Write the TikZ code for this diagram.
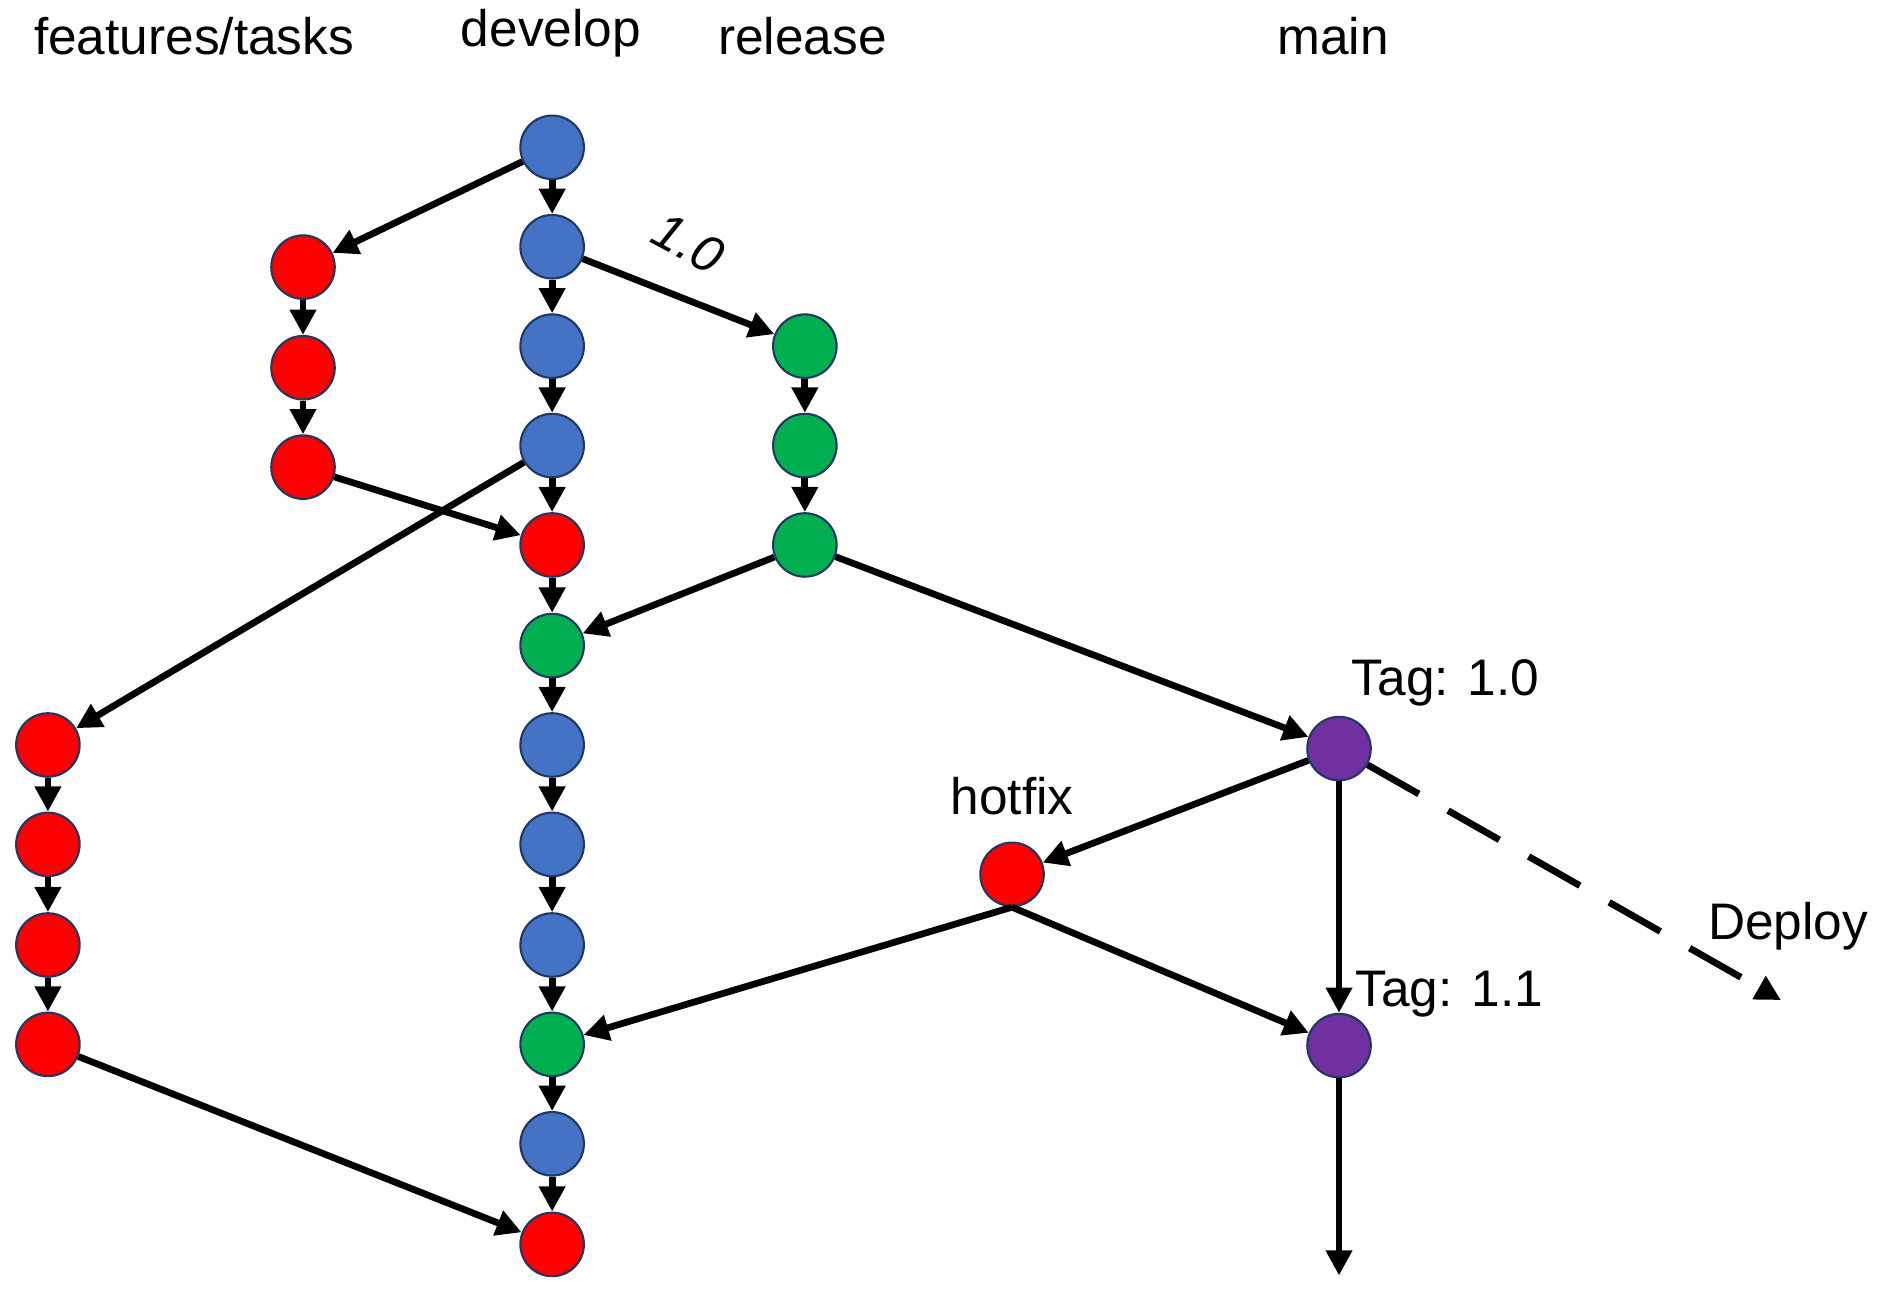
\documentclass[tikz,border=0pt]{standalone}
\usepackage{fontspec}
\setmainfont{Liberation Sans}
\usetikzlibrary{arrows.meta}
\definecolor{cblue}{HTML}{4472C4}
\definecolor{cred}{HTML}{FF0000}
\definecolor{cgreen}{HTML}{00B050}
\definecolor{cpurple}{HTML}{7030A0}
\definecolor{cedge}{HTML}{1F3864}
\tikzset{
  commit/.style={circle, draw=cedge, line width=0.5pt, minimum size=0.53cm, inner sep=0pt},
  flow/.style={line width=1.6pt, -{Triangle[length=6pt,width=6pt]}},
  lbl/.style={font=\fontsize{12.2}{14}\selectfont}
}
\begin{document}
\begin{tikzpicture}[x=0.01cm, y=-0.01cm]
  \useasboundingbox (0,0) rectangle (1568,1090);
  % branch names
  \node[lbl] (tFeat) at (162,30) {features/tasks};
  \node[lbl] (tDev) at (460,28) {develop};
  \node[lbl] (tRel) at (670,30) {release};
  \node[lbl] (tMain) at (1113,30) {main};

  % develop
  \node[commit, fill=cblue] (d1) at (461,123) {};
  \node[commit, fill=cblue] (d2) at (461,206) {};
  \node[commit, fill=cblue] (d3) at (461,289) {};
  \node[commit, fill=cblue] (d4) at (461,372) {};
  \node[commit, fill=cred] (d5) at (461,455) {};
  \node[commit, fill=cgreen] (d6) at (461,539) {};
  \node[commit, fill=cblue] (d7) at (461,622) {};
  \node[commit, fill=cblue] (d8) at (461,705) {};
  \node[commit, fill=cblue] (d9) at (461,789) {};
  \node[commit, fill=cgreen] (d10) at (461,872) {};
  \node[commit, fill=cblue] (d11) at (461,955) {};
  \node[commit, fill=cred] (d12) at (461,1039) {};

  % features/tasks
  \node[commit, fill=cred] (fa1) at (253,223) {};
  \node[commit, fill=cred] (fa2) at (253,307) {};
  \node[commit, fill=cred] (fa3) at (253,390) {};
  \node[commit, fill=cred] (fb1) at (40,622) {};
  \node[commit, fill=cred] (fb2) at (40,705) {};
  \node[commit, fill=cred] (fb3) at (40,789) {};
  \node[commit, fill=cred] (fb4) at (40,872) {};

  % release
  \node[commit, fill=cgreen] (r1) at (672,289) {};
  \node[commit, fill=cgreen] (r2) at (672,372) {};
  \node[commit, fill=cgreen] (r3) at (672,455) {};

  % main and hotfix
  \node[commit, fill=cpurple] (m1) at (1118,625) {};
  \node[lbl] (tTag1) at (1207,570) {Tag: 1.0};
  \node[commit, fill=cpurple] (m2) at (1118,873) {};
  \node[lbl] (tTag2) at (1210,830) {Tag: 1.1};
  \node[commit, fill=cred] (hf) at (845,730) {};
  \node[lbl] (tHot) at (845,665) {hotfix};
  \node[lbl] (tDeploy) at (1493,773) {Deploy};
  \node[lbl, font=\fontsize{12.2}{14}\selectfont\itshape, rotate=-28, inner sep=1pt] (tVer) at (575,203) {1.0};
  \coordinate (mEnd) at (1118,1065);
  \coordinate (dEnd) at (1487,835);

  \foreach \a/\b in {d1/d2,d2/d3,d3/d4,d4/d5,d5/d6,d6/d7,d7/d8,d8/d9,d9/d10,d10/d11,d11/d12,
                     fa1/fa2,fa2/fa3,fb1/fb2,fb2/fb3,fb3/fb4,r1/r2,r2/r3}
    \draw[flow] (\a) -- (\b);

  \draw[flow] (d1) -- (fa1);
  \draw[flow] (fa3) -- (d5);
  \draw[flow] (d4) -- (fb1);
  \draw[flow] (fb4) -- (d12);
  \draw[flow] (d2) -- (r1);
  \draw[flow] (r3) -- (d6);
  \draw[flow] (r3) -- (m1);
  \draw[flow] (m1) -- (hf);
  \draw[flow] (hf.south) -- (d10);
  \draw[flow] (hf.south) -- (m2);
  \draw[flow] (m1) -- (m2);
  \draw[flow] (m2) -- (mEnd);
  \draw[flow, dash pattern=on 14pt off 8pt] (m1) -- (dEnd);
\end{tikzpicture}
\end{document}
